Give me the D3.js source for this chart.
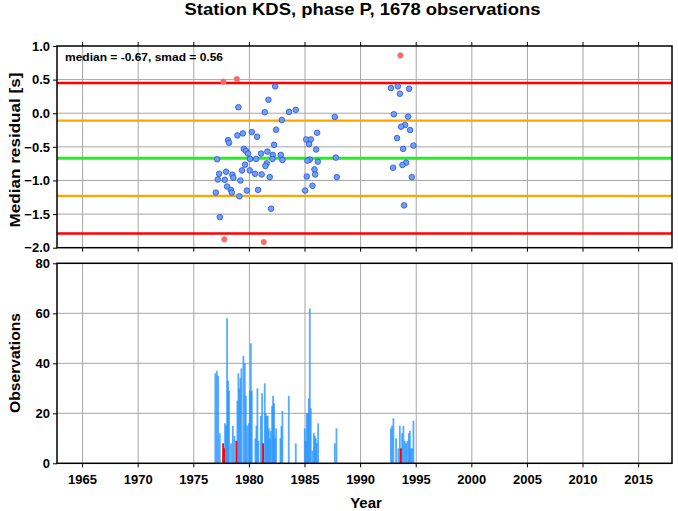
<!DOCTYPE html>
<html><head><meta charset="utf-8">
<script src="https://cdn.jsdelivr.net/npm/d3@7"></script>
<style>body{margin:0;background:#fff}svg{display:block}text{font-family:"Liberation Sans",Arial,sans-serif;font-weight:bold}</style>
</head><body><svg id="c" width="678" height="511"></svg>
<script>
const title = "Station KDS, phase P, 1678 observations";
const medianVal = -0.67, smadVal = 0.56;
const yearTicks = [1965,1970,1975,1980,1985,1990,1995,2000,2005,2010,2015];
const residTicks = [1.0,0.5,0.0,-0.5,-1.0,-1.5,-2.0];
const obsTicks = [0,20,40,60,80];
// residual points: [year, median residual]
const goodYears = [1982.31,1981.71,1979.01,1981.38,1983.57,1984.17,1982.91,1987.68,1982.40,1980.22,1979.41,1978.92,1980.69,1978.08,1978.17,1982.22,1986.09,1985.10,1985.52,1985.37,1986.0,1979.50,1979.70,1979.88,1981.05,1981.62,1982.10,1982.82,1980.06,1980.60,1982.07,1982.97,1977.10,1985.43,1985.22,1987.77,1986.15,1981.56,1981.44,1979.61,1979.34,1980.03,1985.85,1985.91,1985.16,1980.51,1981.11,1981.83,1977.90,1977.28,1978.47,1978.56,1977.16,1977.79,1979.19,1977.99,1978.33,1978.42,1976.98,1979.77,1980.78,1979.10,1985.67,1985.01,1981.95,1977.34,1987.86,
1992.72,1993.35,1994.36,1993.53,1992.99,1994.27,1994.0,1993.64,1994.45,1993.28,1994.75,1993.82,1994.09,1993.76,1992.92,1994.60,1993.91];
const goodResid = [0.40,0.20,0.09,0.015,0.02,0.05,-0.10,-0.055,-0.245,-0.28,-0.30,-0.33,-0.35,-0.40,-0.44,-0.47,-0.29,-0.39,-0.39,-0.46,-0.54,-0.53,-0.56,-0.60,-0.60,-0.57,-0.62,-0.62,-0.68,-0.68,-0.68,-0.695,-0.685,-0.69,-0.705,-0.66,-0.72,-0.745,-0.785,-0.765,-0.85,-0.85,-0.835,-0.91,-0.94,-0.90,-0.91,-0.95,-0.87,-0.90,-0.915,-0.96,-0.985,-0.99,-1.0,-1.09,-1.14,-1.18,-1.18,-1.15,-1.14,-1.235,-1.08,-1.15,-1.42,-1.545,-0.95,
0.375,0.40,0.365,0.29,-0.015,-0.05,-0.175,-0.20,-0.25,-0.37,-0.48,-0.53,-0.735,-0.77,-0.81,-0.95,-1.37];
const outYears = [1977.66,1978.87,1977.75,1981.29,1993.58];
const outResid = [0.47,0.51,-1.875,-1.915,0.86];
// observation counts
const barYears = [1976.94,1977.07,1977.19,1977.34,1977.81,1977.90,1977.99,1978.08,1978.17,1978.35,1978.51,1978.65,1978.92,1979.01,1979.10,1979.19,1979.28,1979.46,1979.59,1979.68,1979.79,1979.95,1980.04,1980.13,1980.22,1980.54,1980.63,1980.72,1980.81,1981.03,1981.14,1981.38,1981.47,1981.56,1981.65,1981.74,1981.83,1981.92,1982.04,1982.13,1982.22,1982.31,1982.40,1982.79,1982.88,1982.97,1983.54,1984.17,1984.98,1985.07,1985.16,1985.25,1985.34,1985.43,1985.52,1985.67,1985.79,1985.88,1985.97,1986.06,1986.18,1987.68,1987.83,
1992.72,1992.83,1992.95,1993.19,1993.40,1993.53,1993.73,1993.85,1993.97,1994.09,1994.21,1994.34,1994.43,1994.51,1994.63,1994.75];
const barCounts = [36,37,35,12,16,15,58,33,29,8,15,11,25,36,30,34,38,43,40,27,15,16,29,48,29,10,15,30,9,19,28,32,20,19,19,14,10,13,23,27,24,10,14,10,15,21,27,8,14,9,20,20,26,62,22,5,12,11,10,8,16,8,14,
14,15,18,10,6,15,12,15,9,8,9,12,13,6,6,17];
const outBarYears = [1977.63,1977.72,1978.83,1981.23,1993.62];
const outBarCounts = [8,6,9,8,6];

const svg = d3.select("#c");
const L = 57, R = 672;
const x = d3.scaleLinear().domain([1962.7, 2018]).range([L, R]);
const yT = d3.scaleLinear().domain([-2, 1]).range([247.7, 46]);
const yB = d3.scaleLinear().domain([0, 80]).range([463.3, 263.3]);
const grid = "#a6a6a6";

function panel(y, yticks, fmt, gridVals) {
  const g = svg.append("g");
  const [y0, y1] = y.range();
  g.selectAll(".vg").data(yearTicks).join("line")
    .attr("x1", d => x(d)).attr("x2", d => x(d)).attr("y1", y1).attr("y2", y0)
    .attr("stroke", grid).attr("stroke-width", 1);
  g.selectAll(".hg").data(gridVals).join("line")
    .attr("x1", L).attr("x2", R).attr("y1", d => y(d)).attr("y2", d => y(d))
    .attr("stroke", grid).attr("stroke-width", 1);
  const ax = g.append("g").attr("transform", `translate(${L},0)`)
    .call(d3.axisLeft(y).tickValues(yticks).tickFormat(fmt).tickSize(4).tickPadding(3));
  ax.select(".domain").remove();
  ax.selectAll("text").style("font-size", "13px").attr("fill", "#000");
  ax.selectAll("line").attr("stroke", "#000");
  return g;
}

const gT = panel(yT, residTicks, d3.format(".1f"), [0.5,0,-0.5,-1,-1.5]);
const gB = panel(yB, obsTicks, d3.format("d"), [20,40,60]);

const refLines = [
  {v: medianVal + 2*smadVal, c: "#ff0000", w: 2.5},
  {v: medianVal - 2*smadVal, c: "#ff0000", w: 2.5},
  {v: medianVal + smadVal, c: "#ffa500", w: 2.2},
  {v: medianVal - smadVal, c: "#ffa500", w: 2.2},
  {v: medianVal, c: "#22ee22", w: 3}
];
gT.selectAll(".ref").data(refLines).join("line")
  .attr("x1", L).attr("x2", R).attr("y1", d => yT(d.v)).attr("y2", d => yT(d.v))
  .attr("stroke", d => d.c).attr("stroke-width", d => d.w);

gT.selectAll(".pg").data(d3.zip(goodYears, goodResid)).join("circle")
  .attr("cx", d => x(d[0])).attr("cy", d => yT(d[1])).attr("r", 2.8)
  .attr("fill", "#6ea0ee").attr("stroke", "#2a4fe8").attr("stroke-width", 0.8);
gT.selectAll(".po").data(d3.zip(outYears, outResid)).join("circle")
  .attr("cx", d => x(d[0])).attr("cy", d => yT(d[1])).attr("r", 2.8)
  .attr("fill", "#f86a6a").attr("stroke", "#f88080").attr("stroke-width", 0.6);

gB.selectAll(".bb").data(d3.zip(barYears, barCounts)).join("line")
  .attr("x1", d => x(d[0])).attr("x2", d => x(d[0])).attr("y1", yB(0)).attr("y2", d => yB(d[1]))
  .attr("stroke", "#1e90ff").attr("stroke-opacity", 0.75).attr("stroke-width", 1.8);
gB.selectAll(".br").data(d3.zip(outBarYears, outBarCounts)).join("line")
  .attr("x1", d => x(d[0])).attr("x2", d => x(d[0])).attr("y1", yB(0)).attr("y2", d => yB(d[1]))
  .attr("stroke", "#ff0000").attr("stroke-width", 1.8);

function frame(y, top, bottom) {
  const [y0, y1] = y.range();
  svg.append("rect").attr("x", L).attr("y", y1).attr("width", R - L).attr("height", y0 - y1)
    .attr("fill", "none").attr("stroke", "#000").attr("stroke-width", 1.5);
  if (top) svg.append("g").selectAll("line").data(yearTicks).join("line")
    .attr("x1", d => x(d)).attr("x2", d => x(d)).attr("y1", y1).attr("y2", y1 - 4).attr("stroke", "#000");
  if (bottom) svg.append("g").selectAll("line").data(yearTicks).join("line")
    .attr("x1", d => x(d)).attr("x2", d => x(d)).attr("y1", y0).attr("y2", y0 + 4).attr("stroke", "#000");
}
frame(yT, true, true);
frame(yB, false, true);

svg.append("g").selectAll("text").data(yearTicks).join("text")
  .attr("x", d => x(d)).attr("y", 484).attr("text-anchor", "middle")
  .style("font-size", "13px").text(d => d);

svg.append("text").attr("x", 65).attr("y", 61).style("font-size", "11.5px")
  .attr("textLength", 158).attr("lengthAdjust", "spacingAndGlyphs")
  .text(`median = ${medianVal.toFixed(2)}, smad = ${smadVal.toFixed(2)}`);

svg.append("text").attr("x", 362.5).attr("y", 15).attr("text-anchor", "middle")
  .style("font-size", "16px").attr("textLength", 356).attr("lengthAdjust", "spacingAndGlyphs").text(title);
svg.append("text").attr("x", 366).attr("y", 508).attr("text-anchor", "middle")
  .style("font-size", "15px").text("Year");
svg.append("text").attr("transform", `translate(20,150) rotate(-90)`)
  .attr("text-anchor", "middle").style("font-size", "14px")
  .attr("textLength", 155).attr("lengthAdjust", "spacingAndGlyphs").text("Median residual [s]");
svg.append("text").attr("transform", `translate(20,363) rotate(-90)`)
  .attr("text-anchor", "middle").style("font-size", "14px")
  .attr("textLength", 100).attr("lengthAdjust", "spacingAndGlyphs").text("Observations");
</script></body></html>
